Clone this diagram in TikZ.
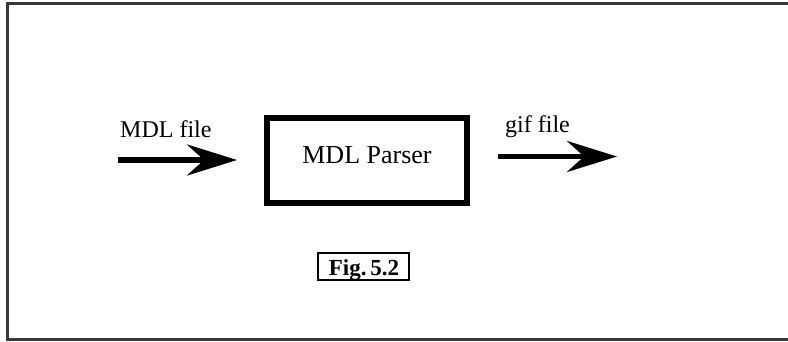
\documentclass[tikz,border=0pt]{standalone}
\usepackage{fontspec}
\setmainfont{Liberation Serif}
\usetikzlibrary{arrows.meta}

\tikzset{
	flow/.style={line width=5.5pt, -{Stealth[length=50pt,width=31pt,inset=17pt]}},
	tag/.style={anchor=base west, inner sep=0pt, font=\fontsize{24}{28}\selectfont},
}

\begin{document}
\begin{tikzpicture}[x=1pt, y=1pt]
	\useasboundingbox (0,0) rectangle (788,341);
	% open frame, no right side
	\draw[line width=3pt, black!78] (788,337) -- (7,337) -- (7,2) -- (788,2);

	\node[draw, line width=6pt, minimum width=200pt, minimum height=85.5pt] (parser) at (367,180.3) {};
	\node[anchor=base, inner sep=0pt, font=\fontsize{26}{30}\selectfont] (parsertext) at ([yshift=-2.6pt]parser.center) {MDL Parser};

	\coordinate (in) at (118,181);
	\coordinate (out) at (617,184.5);
	\draw[flow, shorten >=27pt] (in) -- (in -| parser.west);
	\draw[flow, shorten <=28pt] (out -| parser.east) -- (out);

	\node[tag] (inlabel) at (120,204) {MDL file};
	\node[tag] (outlabel) at (505,209) {gif file};

	\node[draw, line width=2pt, minimum width=91pt, minimum height=27pt, inner sep=0pt] (fig) at (363.5,75) {};
	\node[anchor=base, inner sep=0pt, font=\fontsize{23}{26}\bfseries] (figtext) at (364,66) {Fig.\,5.2};
\end{tikzpicture}
\end{document}
